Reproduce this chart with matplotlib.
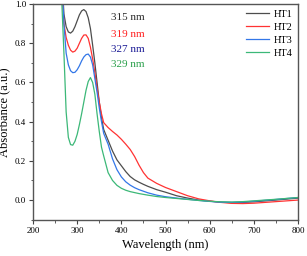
import matplotlib.pyplot as plt
from matplotlib.ticker import MultipleLocator

plt.rcParams['font.family'] = ['Liberation Serif', 'DejaVu Serif']

# wavelength grid (nm)
wavelength = [262, 265, 270, 275, 280, 285, 290, 295, 300, 305, 310, 315, 320, 325,
              330, 335, 340, 345, 350, 355, 360, 370, 380, 390, 400, 410, 420, 430,
              440, 450, 460, 480, 500, 525, 550, 575, 600, 625, 650, 675, 700, 750, 800]

ht1 = [1.35, 1.15, 0.95, 0.885, 0.858, 0.852, 0.862, 0.885, 0.915, 0.945, 0.965, 0.972,
       0.962, 0.93, 0.875, 0.79, 0.70, 0.60, 0.50, 0.42, 0.36, 0.305, 0.25, 0.205, 0.175,
       0.145, 0.12, 0.103, 0.091, 0.08, 0.07, 0.053, 0.04, 0.022, 0.01, 0.0, -0.006,
       -0.011, -0.013, -0.012, -0.009, 0.0, 0.01]

ht2 = [1.4, 1.1, 0.9, 0.83, 0.79, 0.765, 0.755, 0.76, 0.775, 0.80, 0.825, 0.842, 0.843,
       0.825, 0.78, 0.72, 0.65, 0.57, 0.50, 0.44, 0.395, 0.37, 0.35, 0.332, 0.31, 0.285,
       0.258, 0.222, 0.178, 0.14, 0.112, 0.085, 0.064, 0.043, 0.022, 0.006, -0.004,
       -0.012, -0.017, -0.018, -0.016, -0.008, 0.0]

ht3 = [1.4, 1.15, 0.90, 0.75, 0.69, 0.66, 0.65, 0.652, 0.665, 0.685, 0.71, 0.73, 0.742,
       0.745, 0.73, 0.69, 0.62, 0.55, 0.47, 0.40, 0.34, 0.285, 0.21, 0.155, 0.118, 0.093,
       0.076, 0.063, 0.053, 0.045, 0.037, 0.025, 0.017, 0.01, 0.004, -0.002, -0.007,
       -0.011, -0.012, -0.01, -0.006, 0.003, 0.013]

ht4 = [1.2, 1.02, 0.75, 0.45, 0.32, 0.283, 0.28, 0.30, 0.335, 0.385, 0.44, 0.50, 0.56,
       0.605, 0.625, 0.60, 0.54, 0.44, 0.35, 0.27, 0.225, 0.14, 0.10, 0.075, 0.06, 0.05,
       0.043, 0.038, 0.033, 0.029, 0.025, 0.018, 0.013, 0.008, 0.003, -0.002, -0.006,
       -0.009, -0.01, -0.008, -0.004, 0.004, 0.013]

labels = ["HT1", "HT2", "HT3", "HT4"]
peaks = ["315 nm", "319 nm", "327 nm", "329 nm"]
peak_y = [0.93, 0.845, 0.77, 0.69]

line_colors = ["#4d4d4d", "#ff3333", "#3377e8", "#3cb878"]
text_colors = ["#2b2b2b", "#ff2020", "#1c1c96", "#2ca04c"]

fig = plt.figure(figsize=(3.07, 2.56), dpi=100)
ax = fig.add_axes([0.1075, 0.142, 0.8635, 0.842])

for y, lab, c in zip([ht1, ht2, ht3, ht4], labels, line_colors):
    ax.plot(wavelength, y, color=c, lw=0.9, label=lab)

for txt, yy, c in zip(peaks, peak_y, text_colors):
    ax.text(376, yy, txt, color=c, fontsize=8, va='center', ha='left')

ax.set_xlim(200, 800)
ax.set_ylim(-0.1, 1.0)
ax.xaxis.set_major_locator(MultipleLocator(100))
ax.xaxis.set_minor_locator(MultipleLocator(50))
ax.yaxis.set_major_locator(MultipleLocator(0.2))
ax.yaxis.set_minor_locator(MultipleLocator(0.1))
ax.yaxis.set_major_formatter(plt.FuncFormatter(lambda v, p: f"{v:.1f}"))
ax.tick_params(which='major', direction='out', length=3, width=0.8, labelsize=6.5,
               pad=2, color='#444444')
ax.tick_params(which='minor', direction='out', length=1.8, width=0.6, color='#444444')
for s in ax.spines.values():
    s.set_color('#555555')
    s.set_linewidth(1.0)

ax.set_xlabel("Wavelength (nm)", fontsize=9, labelpad=3)
ax.set_ylabel("Absorbance (a.u.)", fontsize=9, labelpad=3)

ax.legend(loc='upper right', frameon=False, fontsize=7.5, handlelength=2.2,
          handletextpad=0.4, labelspacing=0.35, borderaxespad=0.15,
          bbox_to_anchor=(1.0, 1.0))

fig.savefig("out.png", dpi=100)
